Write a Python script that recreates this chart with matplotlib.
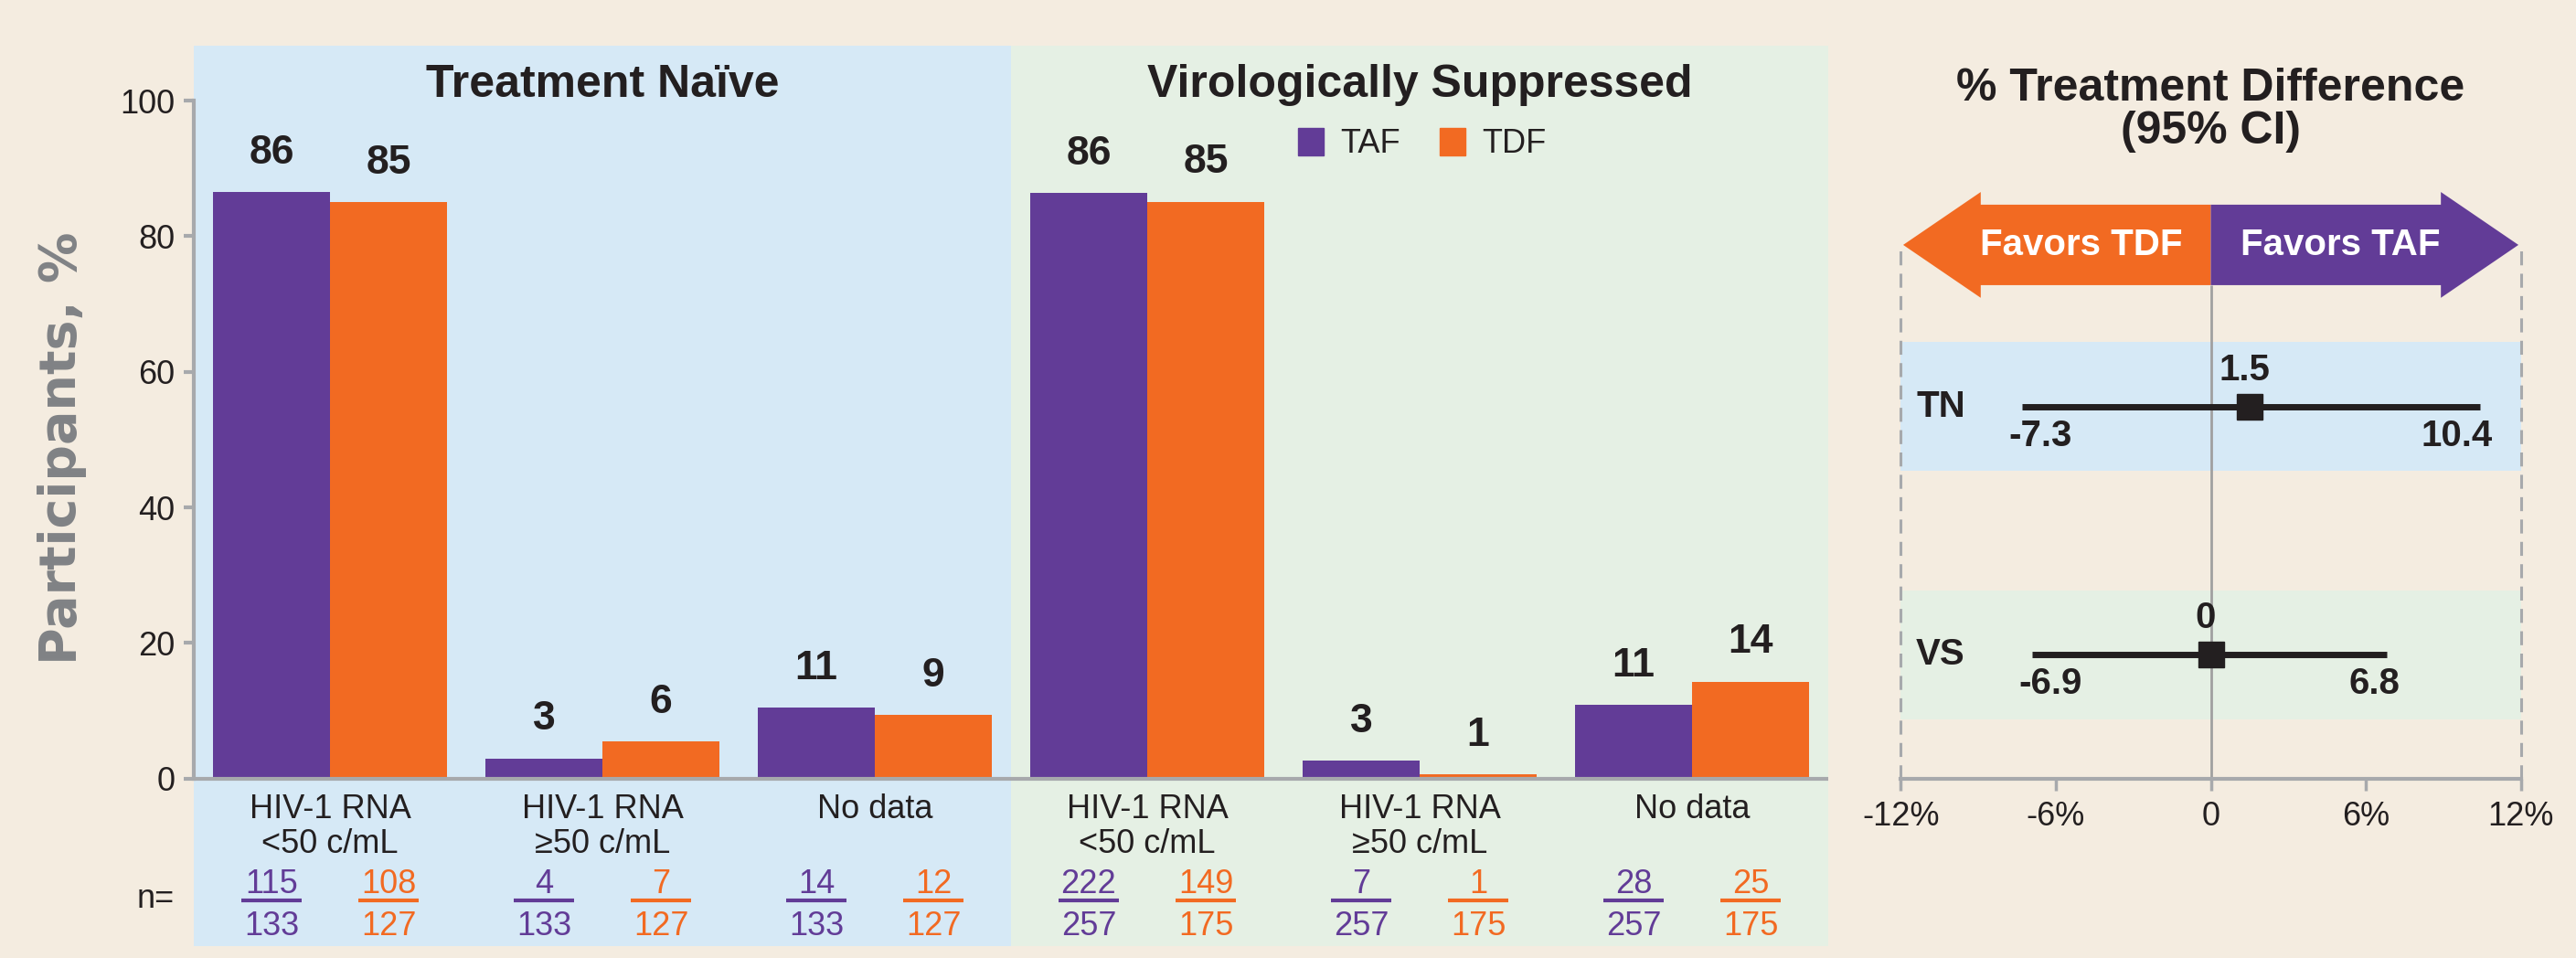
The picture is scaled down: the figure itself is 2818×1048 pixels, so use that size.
import matplotlib
matplotlib.use("Agg")
import numpy as np
import matplotlib.pyplot as plt
from matplotlib.patches import Patch, Polygon
from matplotlib.transforms import blended_transform_factory

# ---- data ----
panels = ["Treatment Naïve", "Virologically Suppressed"]
categories = ["HIV-1 RNA\n<50 c/mL", "HIV-1 RNA\n≥50 c/mL", "No data"] * 2
taf_pct = [86.5, 3.0, 10.5, 86.4, 2.7, 10.9]
tdf_pct = [85.0, 5.5, 9.4, 85.1, 0.6, 14.3]
taf_labels = [86, 3, 11, 86, 3, 11]
tdf_labels = [85, 6, 9, 85, 1, 14]
taf_num = [115, 4, 14, 222, 7, 28]
taf_den = [133, 133, 133, 257, 257, 257]
tdf_num = [108, 7, 12, 149, 1, 25]
tdf_den = [127, 127, 127, 175, 175, 175]

rows = ["VS", "TN"]
diff = [0, 1.5]
ci_low = [-6.9, -7.3]
ci_high = [6.8, 10.4]
diff_ticks = [-12, -6, 0, 6, 12]
diff_ticklabels = ["-12%", "-6%", "0", "6%", "12%"]

# ---- colours ----
PURPLE = "#623c97"
ORANGE = "#f26a22"
BG = "#f4ece0"
BLUE = "#d6e9f6"
GREEN = "#e5f0e4"
GRAY = "#a7a9ac"
DARK = "#231f20"

plt.rcParams["font.family"] = ["Liberation Sans", "DejaVu Sans"]
plt.rcParams["text.color"] = DARK

W, H = 2818, 1048
fig = plt.figure(figsize=(W / 100, H / 100), dpi=100, facecolor=BG)

# ---- bar panel ----
ax = fig.add_axes([212 / W, 13 / H, 1788 / W, 985 / H])
ax.set_facecolor("none")
ax.set_xlim(-0.5, 5.5)
ax.set_ylim(-24.7, 108.1)
ax.axvspan(-0.5, 2.5, color=BLUE, zorder=0, lw=0)
ax.axvspan(2.5, 5.5, color=GREEN, zorder=0, lw=0)

x = np.arange(len(categories))
w = 0.43
ax.bar(x - w / 2, taf_pct, w, color=PURPLE, zorder=2)
ax.bar(x + w / 2, tdf_pct, w, color=ORANGE, zorder=2)
ax.axhline(0, color=GRAY, lw=3, zorder=3)

for i in range(len(x)):
    ax.text(x[i] - w / 2, taf_pct[i] + 3, str(taf_labels[i]), ha="center", va="bottom",
            fontsize=32, weight="bold")
    ax.text(x[i] + w / 2, tdf_pct[i] + 3, str(tdf_labels[i]), ha="center", va="bottom",
            fontsize=32, weight="bold")
    ax.text(x[i], -2.2, categories[i], ha="center", va="top", fontsize=26, linespacing=1.1)
    for xc, num, den, col in [(x[i] - w / 2, taf_num[i], taf_den[i], PURPLE),
                              (x[i] + w / 2, tdf_num[i], tdf_den[i], ORANGE)]:
        ax.text(xc, -16.9, str(num), ha="center", va="baseline", fontsize=26, color=col)
        ax.plot([xc - 0.11, xc + 0.11], [-17.9, -17.9], color=col, lw=3, solid_capstyle="butt")
        ax.text(xc, -23.1, str(den), ha="center", va="baseline", fontsize=26, color=col)

ax.text(-0.57, -17.7, "n=", ha="right", va="center", fontsize=26, clip_on=False)

ax.text(1, 100.5, panels[0], ha="center", va="baseline", fontsize=36, weight="bold")
ax.text(4, 100.5, panels[1], ha="center", va="baseline", fontsize=36, weight="bold")

for s in ["top", "right", "bottom"]:
    ax.spines[s].set_visible(False)
ax.spines["left"].set_bounds(0, 100)
ax.spines["left"].set_color(GRAY)
ax.spines["left"].set_linewidth(3)
ax.set_xticks([])
ax.set_yticks(range(0, 101, 20))
ax.tick_params(axis="y", length=8, width=3, color=GRAY, pad=7, labelsize=26, labelcolor=DARK)

handles = [Patch(color=PURPLE, label="TAF"), Patch(color=ORANGE, label="TDF")]
ax.legend(handles=handles, loc="center left", bbox_to_anchor=(3.554, 93.6),
          bbox_transform=ax.transData, ncol=2, frameon=False, fontsize=26,
          handlelength=0.77, handleheight=0.9, handletextpad=0.5, columnspacing=1.2,
          borderpad=0, borderaxespad=0)

fig.text(68 / W, 1 - 490 / H, "Participants, %", rotation=90, ha="center", va="center",
         fontsize=40, weight="bold", color="#808285", family="DejaVu Sans")

# ---- forest panel ----
ax2 = fig.add_axes([2065 / W, (H - 852) / H, 707 / W, 652 / H])
ax2.set_facecolor("none")
ax2.set_xlim(-12.5, 12.5)
ax2.set_ylim(0.5, 2.9)
row_pos = np.arange(len(rows)) + 1

ax2.barh(row_pos, 24, left=-12, height=0.52, color=[GREEN, BLUE], zorder=0)

arrow_y, body, head, tip, neck = 2.65, 0.162, 0.213, 11.9, 8.9
ax2.vlines(0, 0.5, arrow_y - body, color="#a0a0a0", lw=2, zorder=1)
ax2.vlines([-12, 12], 0.5, arrow_y, colors=GRAY, linestyles=(0, (5, 3)), lw=2.2, zorder=1)
for sgn, col in [(-1, ORANGE), (1, PURPLE)]:
    pts = [(0, arrow_y - body), (0, arrow_y + body), (sgn * neck, arrow_y + body),
           (sgn * neck, arrow_y + head), (sgn * tip, arrow_y), (sgn * neck, arrow_y - head),
           (sgn * neck, arrow_y - body)]
    ax2.add_patch(Polygon(pts, closed=True, color=col, lw=0, zorder=2))
ax2.text(-5, arrow_y, "Favors TDF", color="white", ha="center", va="center", fontsize=29, weight="bold")
ax2.text(5, arrow_y, "Favors TAF", color="white", ha="center", va="center", fontsize=29, weight="bold")

ax2.hlines(row_pos, ci_low, ci_high, color=DARK, lw=5, zorder=3)
ax2.plot(diff, row_pos, "s", ms=19.5, color=DARK, zorder=4)
for r, name, d, lo, hi in zip(row_pos, rows, diff, ci_low, ci_high):
    ax2.text(d - 0.2, r + 0.147, f"{d:g}", ha="center", va="center", fontsize=29, weight="bold")
    ax2.text(lo + 0.7, r - 0.118, f"{lo:g}", ha="center", va="center", fontsize=29, weight="bold")
    ax2.text(hi + 0.5, r - 0.118, f"{hi:g}", ha="right", va="center", fontsize=29, weight="bold")
    ax2.text(-10.45, r, name, ha="center", va="center", fontsize=29, weight="bold")

for s in ["top", "right", "left"]:
    ax2.spines[s].set_visible(False)
ax2.spines["bottom"].set_bounds(-12, 12)
ax2.spines["bottom"].set_color(GRAY)
ax2.spines["bottom"].set_linewidth(3)
ax2.set_yticks([])
ax2.set_xticks(diff_ticks)
ax2.set_xticklabels(diff_ticklabels)
ax2.tick_params(axis="x", length=9, width=2.5, color=GRAY, pad=8, labelsize=26, labelcolor=DARK)

ax2.text(0, 0.885, "% Treatment Difference\n(95% CI)",
         transform=blended_transform_factory(ax2.transData, fig.transFigure),
         ha="center", va="center", fontsize=36, weight="bold", linespacing=1.05)

fig.savefig("out.png", dpi=100, facecolor=BG)
